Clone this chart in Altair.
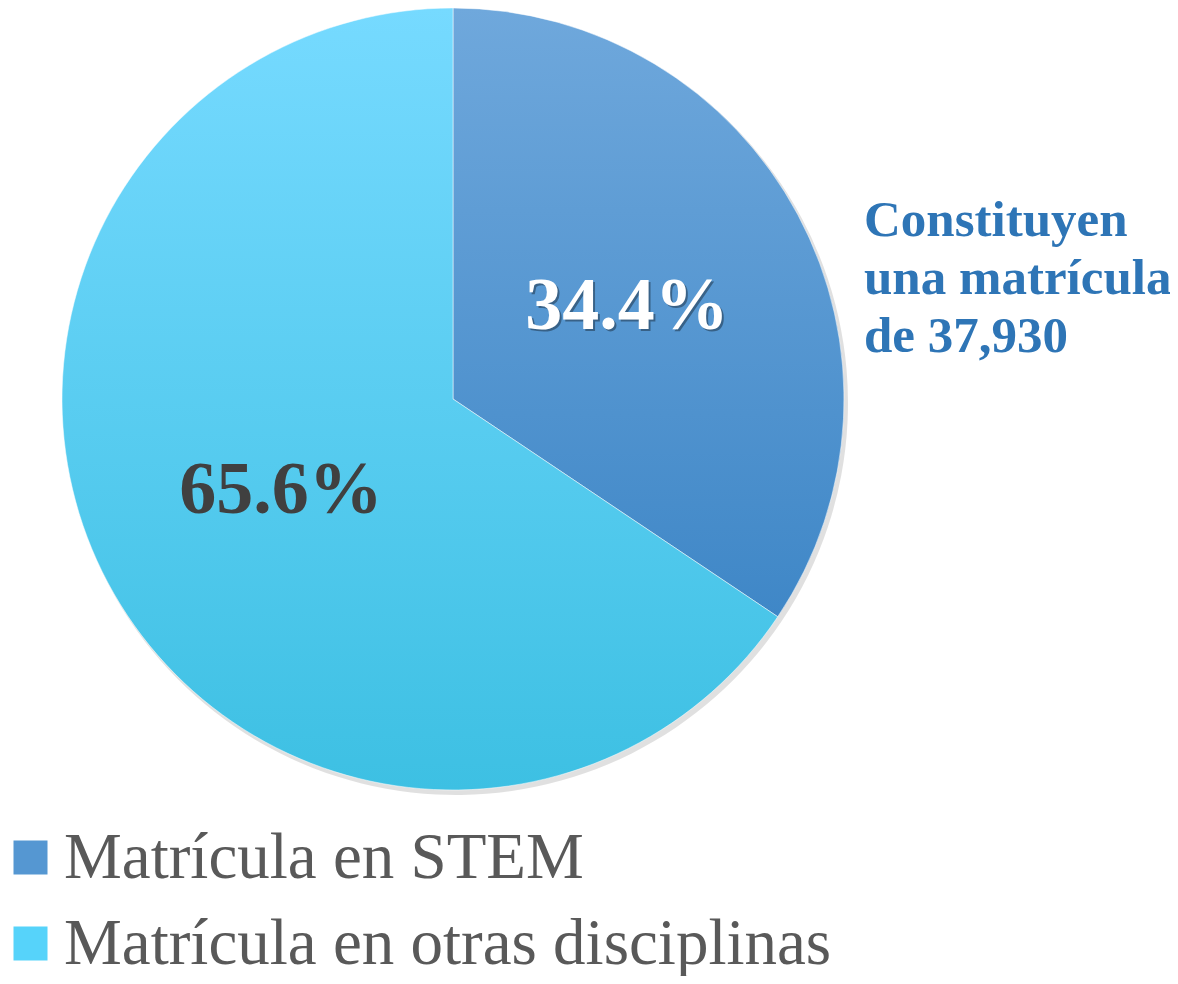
import altair as alt
import pandas as pd

categories = ["Matrícula en STEM", "Matrícula en otras disciplinas"]
values = [34.4, 65.6]
labels = ["34.4%", "65.6%"]
note_lines = ["Constituyen", "una matrícula", "de 37,930"]

df = pd.DataFrame({"cat": categories, "val": values, "lab": labels, "order": [0, 1]})
note_df = pd.DataFrame({"txt": [note_lines]})

FONT = "Liberation Serif"
CX, CY, R = 445, 391, 391

grad_stem = alt.Gradient(gradient="linear", x1=0, y1=0, x2=0, y2=1,
                         stops=[alt.GradientStop(color="#6FA8DC", offset=0),
                                alt.GradientStop(color="#3F87C7", offset=1)])
grad_other = alt.Gradient(gradient="linear", x1=0, y1=0, x2=0, y2=1,
                          stops=[alt.GradientStop(color="#76DAFF", offset=0),
                                 alt.GradientStop(color="#3DC0E3", offset=1)])

theta = alt.Theta("val:Q", stack=True)
order = alt.Order("order:Q")

shadow = alt.Chart(df).mark_arc(radius=R + 1, color="#000000", opacity=0.12).encode(
    theta=theta, order=order, x=alt.value(CX + 3), y=alt.value(CY + 4)
)

pie = alt.Chart(df).mark_arc(radius=R, stroke="#ffffff", strokeWidth=0.5).encode(
    theta=theta,
    order=order,
    x=alt.value(CX), y=alt.value(CY),
    fill=alt.condition(alt.datum.order == 0, alt.value(grad_stem), alt.value(grad_other)),
)

legend_layer = alt.Chart(df).mark_square(size=10, filled=True, opacity=1).encode(
    color=alt.Color(
        "cat:N",
        sort=categories,
        scale=alt.Scale(domain=categories, range=["#5597D2", "#56D3FA"]),
        legend=alt.Legend(
            title=None, orient="none", legendX=-10, legendY=817,
            symbolType="square", symbolSize=1156, symbolStrokeWidth=0,
            symbolOpacity=1,
            labelFont=FONT, labelFontSize=65, labelColor="#595959",
            labelLimit=1000, rowPadding=20, labelOffset=1, padding=0,
        ),
    ),
    x=alt.value(-500), y=alt.value(-500),
)

text_shadow = alt.Chart(df).transform_filter(alt.datum.order == 0).mark_text(
    radius=196, font=FONT, fontSize=74, fontWeight="bold", color="#000000",
    opacity=0.35, dx=3, dy=2, baseline="middle"
).encode(theta=theta, order=order, text="lab:N", x=alt.value(CX), y=alt.value(CY))

text = alt.Chart(df).mark_text(
    radius=196, font=FONT, fontSize=74, fontWeight="bold", baseline="middle", dx=1
).encode(
    theta=theta, order=order, text="lab:N",
    x=alt.value(CX), y=alt.value(CY),
    color=alt.condition(alt.datum.order == 0, alt.value("#ffffff"), alt.value("#404040")),
)

note = alt.Chart(note_df).mark_text(
    font=FONT, fontSize=51, fontWeight="bold", color="#2E75B6",
    align="left", baseline="top", lineHeight=58
).encode(text="txt", x=alt.value(856), y=alt.value(188))

chart = alt.layer(shadow, pie, legend_layer, text_shadow, text, note).properties(
    width=1162, height=968, autosize=alt.AutoSizeParams(type="none"), padding=0
).configure_view(stroke=None)

chart.save("out.html", embed_options={"renderer": "svg", "actions": False})
